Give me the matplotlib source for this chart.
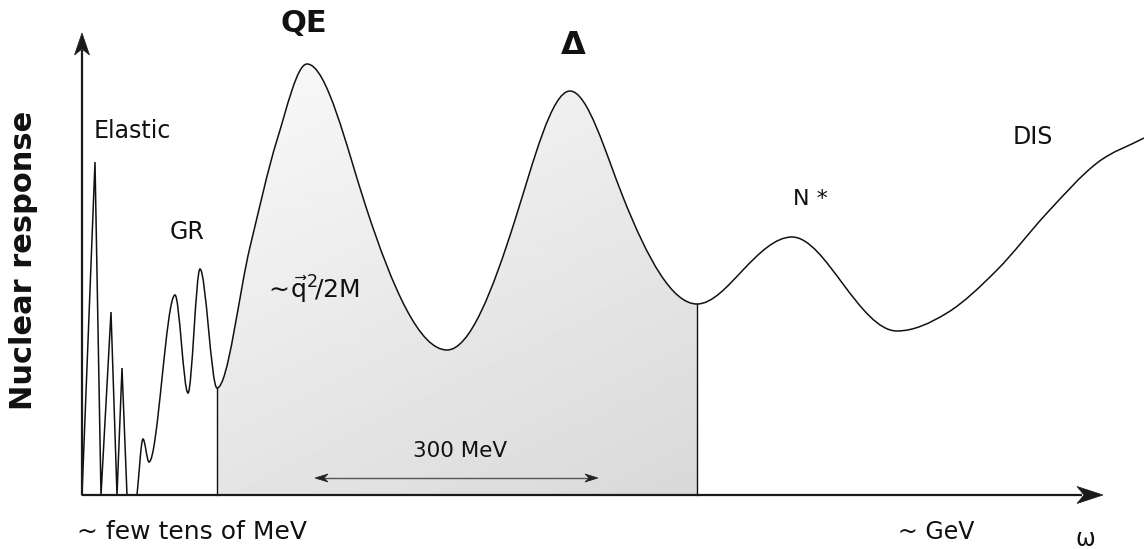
import numpy as np
import matplotlib
matplotlib.use("Agg")
import matplotlib.pyplot as plt
from matplotlib.path import Path
from matplotlib.patches import PathPatch, Polygon

plt.rcParams["font.family"] = ["DejaVu Sans"]
plt.rcParams["mathtext.fontset"] = "dejavusans"

# ---- schematic nuclear response vs energy transfer (arbitrary units) ----
# elastic lines: sharp spikes
elastic_omega = [0, 13, 19, 29, 35, 40, 45]
elastic_resp = [0, 333, 0, 183, 0, 127, 0]

# smooth response: GR, QE, Delta, N*, DIS
omega = [55, 61, 67, 93, 106, 118, 135, 168, 195, 225, 284, 365, 433, 488,
         541, 615, 661, 710, 761, 815, 865, 915, 965, 1015, 1062]
response = [0, 56, 33, 200, 102, 226, 107, 248, 355, 431, 288, 145, 275, 404,
            298, 191, 225, 258, 211, 164, 182, 225, 282, 332, 357]

# shaded QE + Delta region limits
shade_start, shade_end = 135, 615
# 300 MeV span marker
span_lo, span_hi = 233, 516

# ---- figure: 1 data unit == 1 pixel ----
W, H = 1144, 549
fig = plt.figure(figsize=(W / 100, H / 100), dpi=100)
ax = fig.add_axes([0, 0, 1, 1])
ax.axis("off")


def tangents(x, y):
    """Flat tangents at extrema; steeper tangents on a flank between two extrema."""
    x = np.asarray(x, float)
    y = np.asarray(y, float)
    d = np.diff(y) / np.diff(x)
    n = len(x)
    ext = np.zeros(n, bool)
    for k in range(1, n - 1):
        ext[k] = d[k - 1] * d[k] <= 0
    m = np.zeros_like(x)
    for k in range(1, n - 1):
        if ext[k]:
            continue
        m[k] = (y[k + 1] - y[k - 1]) / (x[k + 1] - x[k - 1])
        if ext[k - 1] and ext[k + 1]:
            m[k] *= 1.5
    m[0] = d[0]
    m[-1] = d[-1]
    return x, y, m


def bezier_path(x, y, i0=0, i1=None):
    x, y, m = tangents(x, y)
    if i1 is None:
        i1 = len(x) - 1
    verts = [(x[i0], y[i0])]
    codes = [Path.MOVETO]
    for i in range(i0, i1):
        hh = x[i + 1] - x[i]
        verts += [(x[i] + hh / 3, y[i] + m[i] * hh / 3),
                  (x[i + 1] - hh / 3, y[i + 1] - m[i + 1] * hh / 3),
                  (x[i + 1], y[i + 1])]
        codes += [Path.CURVE4] * 3
    return verts, codes


def stealth(ax, tip, direction, length, half_w, notch, color):
    u = np.asarray(direction, float)
    u /= np.hypot(*u)
    p = np.array([-u[1], u[0]])
    t = np.asarray(tip, float)
    pts = [t, t - length * u + half_w * p, t - (length - notch) * u,
           t - length * u - half_w * p]
    ax.add_patch(Polygon(pts, closed=True, fc=color, ec=color, lw=0.5, zorder=5))


# shaded region with diagonal grey gradient
i0 = omega.index(shade_start)
i1 = omega.index(shade_end)
v, c = bezier_path(omega, response, i0, i1)
v += [(shade_end, 0), (shade_start, 0), (shade_start, response[i0])]
c += [Path.LINETO, Path.LINETO, Path.CLOSEPOLY]
region = PathPatch(Path(v, c), fc="none", ec="none")
ax.add_patch(region)

gx = np.linspace(0, 1, 300)
gy = np.linspace(0, 1, 300)
GX, GY = np.meshgrid(gx, gy)
t = 0.35 * GX + 0.65 * (1 - GY)   # 0 at upper-left, 1 at lower-right
shade = 0.98 - 0.13 * t
img = ax.imshow(shade, extent=(shade_start, shade_end, 0, 440), origin="lower",
                cmap="gray", vmin=0, vmax=1, aspect="auto",
                interpolation="bilinear", zorder=1)
img.set_clip_path(region)
ax.set_xlim(-82, W - 82)
ax.set_ylim(-54, H - 54)

# boundary lines of the shaded region
ax.plot([shade_start, shade_start], [0, response[i0]], color="#111111", lw=1.0, zorder=3)
ax.plot([shade_end, shade_end], [0, response[i1]], color="#111111", lw=1.0, zorder=3)

# response curve
ax.plot(elastic_omega, elastic_resp, color="#111111", lw=1.1, zorder=4,
        solid_joinstyle="miter")
v, c = bezier_path(omega, response)
ax.add_patch(PathPatch(Path(v, c), fc="none", ec="#111111", lw=1.1, zorder=4,
                       clip_on=False))

# axes with arrowheads
axis_color = "#1a1a1a"
ax.plot([0, 1000], [0, 0], color=axis_color, lw=1.6, zorder=5, solid_capstyle="butt")
ax.plot([0, 0], [0, 445], color=axis_color, lw=1.6, zorder=5, solid_capstyle="butt")
stealth(ax, (1021, 0), (1, 0), 26, 8.5, 7, axis_color)
stealth(ax, (0, 462), (0, 1), 22, 7.5, 6, axis_color)

# 300 MeV span
ax.plot([span_lo + 6, span_hi - 6], [17, 17], color="#555555", lw=1.0, zorder=5)
stealth(ax, (span_lo, 17), (-1, 0), 13, 4.0, 4, "#222222")
stealth(ax, (span_hi, 17), (1, 0), 13, 4.0, 4, "#222222")
ax.text((span_lo + span_hi) / 2 + 4, 44, "300 MeV", fontsize=15.5,
        ha="center", va="center", color="#111111", zorder=6)

# region labels
txt = dict(ha="center", va="center", color="#111111", zorder=6)
ax.text(50, 364, "Elastic", fontsize=17, **txt)
ax.text(105, 263, "GR", fontsize=17, **txt)
ax.text(222, 472, "QE", fontsize=22, fontweight="bold", **txt)
ax.text(491, 449, "Δ", fontsize=23, fontweight="bold", **txt)
ax.text(728, 296, "N *", fontsize=16, **txt)
ax.text(951, 358, "DIS", fontsize=17, **txt)
ax.text(230, 205, r"$\sim\!\vec{\mathrm{q}}^{2}\!/\mathrm{2M}$", fontsize=18, **txt)

# energy scale labels
ax.text(-5, -37, "~ few tens of MeV", fontsize=18, ha="left", va="center", color="#111111")
ax.text(854, -37, "~ GeV", fontsize=17, ha="center", va="center", color="#111111")
ax.text(1003, -44, "ω", fontsize=17, ha="center", va="center", color="#111111")
ax.text(-58, 235, "Nuclear response", fontsize=22, fontweight="bold",
        rotation=90, ha="center", va="center", color="#111111")

fig.savefig("out.png", dpi=100, facecolor="white")
